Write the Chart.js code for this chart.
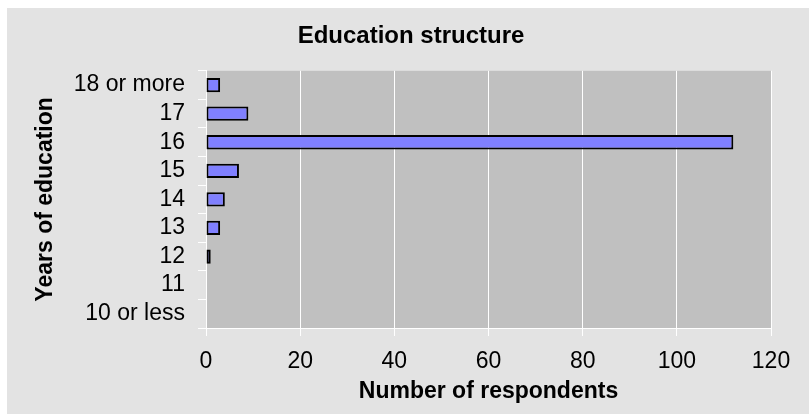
<!DOCTYPE html>
<html>
<head>
<meta charset="utf-8">
<script src="https://cdn.jsdelivr.net/npm/chart.js@4/dist/chart.umd.min.js"></script>
<style>
html,body{margin:0;padding:0;background:#ffffff;}
canvas{display:block;}
</style>
</head>
<body>
<canvas id="c" width="809" height="414"></canvas>
<script>
const chartTitle = 'Education structure';
const yAxisTitle = 'Years of education';
const xAxisTitle = 'Number of respondents';
const categories = ['18 or more', '17', '16', '15', '14', '13', '12', '11', '10 or less'];
const respondents = [3, 9, 112, 7, 4, 3, 1, 0, 0];
const xMin = 0;
const xMax = 120;
const xStep = 20;

const FONT = "'Liberation Sans', Arial, sans-serif";

const bgPlugin = {
  id: 'bg',
  beforeDraw(chart) {
    const ctx = chart.ctx;
    const a = chart.chartArea;
    ctx.save();
    ctx.fillStyle = '#ffffff';
    ctx.fillRect(0, 0, chart.width, chart.height);
    ctx.fillStyle = '#e3e3e3';
    ctx.fillRect(7, 8, chart.width - 7, chart.height - 8);
    ctx.fillStyle = '#c0c0c0';
    ctx.fillRect(a.left, a.top, a.right - a.left, a.bottom - a.top);
    ctx.restore();
  }
};

new Chart(document.getElementById('c'), {
  type: 'bar',
  data: {
    labels: categories,
    datasets: [{
      data: respondents,
      backgroundColor: '#8080ff',
      borderColor: '#000000',
      borderWidth: 2,
      borderSkipped: false,
      barPercentage: 0.5,
      categoryPercentage: 1.0
    }]
  },
  options: {
    indexAxis: 'y',
    responsive: false,
    animation: false,
    devicePixelRatio: 1,
    layout: { padding: { left: 13, right: 0, top: 0, bottom: 0 } },
    plugins: {
      legend: { display: false },
      tooltip: { enabled: false },
      title: {
        display: true,
        text: chartTitle,
        color: '#000000',
        font: { family: FONT, size: 24, weight: 'bold' },
        padding: { top: 22, bottom: 20 }
      }
    },
    scales: {
      x: {
        type: 'linear',
        min: xMin,
        max: xMax,
        ticks: {
          stepSize: xStep,
          color: '#000000',
          font: { family: FONT, size: 23 },
          padding: 12,
          maxRotation: 0
        },
        grid: {
          color: '#ffffff',
          lineWidth: 1,
          drawOnChartArea: true,
          drawTicks: true,
          tickLength: 8
        },
        border: { display: true, color: '#ffffff', width: 1 },
        title: {
          display: true,
          text: xAxisTitle,
          color: '#000000',
          font: { family: FONT, size: 23, weight: 'bold' },
          padding: { top: 0, bottom: 9 }
        },
        afterFit(scale) {
          scale.height = 86;
          scale.paddingRight = 38;
        }
      },
      y: {
        type: 'category',
        ticks: {
          color: '#000000',
          font: { family: FONT, size: 23 },
          padding: 13,
          autoSkip: false
        },
        grid: {
          color: '#ffffff',
          lineWidth: 1,
          offset: true,
          drawOnChartArea: false,
          drawTicks: true,
          tickLength: 8
        },
        border: { display: true, color: '#ffffff', width: 1 },
        title: {
          display: true,
          text: yAxisTitle,
          color: '#000000',
          font: { family: FONT, size: 23, weight: 'bold' },
          padding: { top: 19, bottom: 0 }
        },
        afterFit(scale) {
          scale.width = 193;
        }
      }
    }
  },
  plugins: [bgPlugin]
});
</script>
</body>
</html>
